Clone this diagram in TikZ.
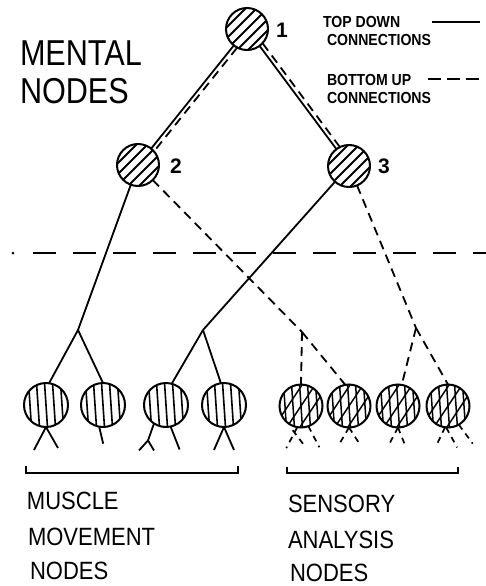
\documentclass[tikz,border=0pt]{standalone}
\usepackage{fontspec}
\setmainfont{Liberation Sans}
\begin{document}
\begin{tikzpicture}[x=1pt,y=-1pt,line width=1.8pt,
  every node/.style={inner sep=0pt,outer sep=0pt},
  bu/.style={line width=1.8pt,dash pattern=on 9pt off 6pt},
  leg/.style={line width=1.7pt,dash pattern=on 6pt off 5pt},
  sep/.style={line width=2pt,dash pattern=on 23pt off 17pt},
  topnode/.style={circle,draw,line width=2pt,minimum size=42pt,
    path picture={\foreach \i in {-22,-11,0,11,22}
      \draw[line width=1.8pt] ([shift={(\i-30,30)}]path picture bounding box.center) -- ++(60,-60);}},
  musnode/.style={circle,draw,line width=2pt,minimum size=44pt,
    path picture={\foreach \i in {-16,-8,0,8,16}
      \draw[line width=1.6pt] ([shift={(\i-2,-30)}]path picture bounding box.center) -- ++(4,60);}},
  sennode/.style={circle,draw,line width=2pt,minimum size=43pt,
    path picture={\foreach \i in {-16,-8,0,8,16}
      \draw[line width=1.5pt] ([shift={(\i-2,-30)}]path picture bounding box.center) -- ++(4,60);
      \foreach \i in {-26,-13,0,13,26}
      \draw[line width=1.5pt] ([shift={(\i-20,30)}]path picture bounding box.center) -- ++(40,-60);}},
  bigtxt/.style={font=\fontsize{36}{36}\selectfont,anchor=base west},
  midtxt/.style={font=\fontsize{25}{25}\selectfont,anchor=base west},
  legtxt/.style={font=\bfseries\fontsize{16}{16}\selectfont,anchor=base west},
  numtxt/.style={font=\bfseries\fontsize{21}{21}\selectfont}
]
\useasboundingbox (0,0) rectangle (486,586);

% mental nodes
\node[topnode] (n1) at (247,29) {};
\node[topnode] (n2) at (138,165) {};
\node[topnode] (n3) at (349,166) {};
\node[numtxt] (l1) at (282,30) {1};
\node[numtxt] (l2) at (176,166) {2};
\node[numtxt] (l3) at (384,166) {3};

% lower nodes
\node[musnode] (m1) at (46,405) {};
\node[musnode] (m2) at (103,405) {};
\node[musnode] (m3) at (166,405) {};
\node[musnode] (m4) at (224,405) {};
\node[sennode] (s1) at (301,406) {};
\node[sennode] (s2) at (349,406) {};
\node[sennode] (s3) at (398,406) {};
\node[sennode] (s4) at (448,406) {};

% junctions
\coordinate (jm1) at (78,330);
\coordinate (jm2) at (203,330);
\coordinate (js1) at (302,332);
\coordinate (js2) at (416,328);

% top-level double connections
\draw (n1) -- (n2);
\draw[bu,transform canvas={shift={(3.1,2.5)}}] (n1) -- (n2);
\draw (n1) -- (n3);
\draw[bu,transform canvas={shift={(3.2,-2.4)}}] (n1) -- (n3);

% top down (solid)
\draw (n2) -- (jm1);
\draw (jm1) -- (m1.82);
\draw (jm1) -- (m2.north);
\draw (n3) -- (jm2);
\draw (jm2) -- (m3.75);
\draw (jm2) -- (m4.98);

% bottom up (dashed)
\draw[bu] (n2) -- (js1);
\draw[bu] (js1) -- (s1.north);
\draw[bu] (js1) -- (s2.100);
\draw[bu] (n3) -- (js2);
\draw[bu] (js2) -- (s3.80);
\draw[bu] (js2) -- (s4.north);

% separator
\coordinate (sepdot) at (13,253);
\coordinate (sepa) at (33,253);
\coordinate (sepb) at (486,253);
\fill (sepdot) circle (1.5pt);
\draw[sep] (sepa) -- (sepb);

% legs of muscle nodes
\draw (m1.south) -- ++(-12,23);
\draw (m1.south) -- ++(12,21);
\draw (m2.-100) -- ++(4,17);
\draw (m3.-123) -- ++(-6,17) coordinate (m3f);
\draw (m3f) -- ++(-9,10);
\draw (m3f) -- ++(6,10);
\draw (m3.-78) -- ++(9,23);
\draw (m4.south) -- ++(-10,23);
\draw (m4.south) -- ++(10,23);

% legs of sensory nodes
\draw[leg] (s1.-100) -- ++(-11,21);
\draw[leg] (s1.-110) ++(-1,4) -- ++(13,17);
\draw[leg] (s1.-70) -- ++(11,21);
\draw[leg] (s2.south) -- ++(-10,17);
\draw[leg] (s2.south) -- ++(11,17);
\draw[leg] (s3.south) -- ++(-9,17);
\draw[leg] (s3.south) -- ++(8,20);
\draw[leg] (s4.-98) -- ++(-9,19);
\draw[leg] (s4.-95) -- ++(11,20);
\draw[leg] (s4.-60) -- ++(14,19);

% brackets
\draw[line width=1.7pt] (26,466) -- (26,473) -- (238,473) -- (238,466);
\draw[line width=1.7pt] (287,467) -- (287,473) -- (458,473) -- (458,467);

% texts
\node[bigtxt] (t1) at (20,66) {\scalebox{0.85}[1]{MENTAL}};
\node[bigtxt] (t2) at (20,103) {\scalebox{0.85}[1]{NODES}};
\node[legtxt] (g1) at (323,28) {\scalebox{0.88}[1]{TOP DOWN}};
\node[legtxt] (g2) at (327,46) {\scalebox{0.88}[1]{CONNECTIONS}};
\node[legtxt] (g3) at (327,85) {\scalebox{0.88}[1]{BOTTOM UP}};
\node[legtxt] (g4) at (327,103) {\scalebox{0.88}[1]{CONNECTIONS}};
\coordinate (lsa) at (432,22);
\coordinate (lsb) at (480,22);
\draw[line width=1.7pt] (lsa) -- (lsb);
\coordinate (lda) at (428,79);
\coordinate (ldb) at (481,79);
\draw[line width=1.7pt,dash pattern=on 13pt off 6pt] (lda) -- (ldb);
\node[midtxt] (b1) at (27,509) {\scalebox{0.88}[1]{MUSCLE}};
\node[midtxt] (b2) at (28,545) {\scalebox{0.88}[1]{MOVEMENT}};
\node[midtxt] (b3) at (30,579) {\scalebox{0.88}[1]{NODES}};
\node[midtxt] (b4) at (288,512) {\scalebox{0.88}[1]{SENSORY}};
\node[midtxt] (b5) at (288,548) {\scalebox{0.88}[1]{ANALYSIS}};
\node[midtxt] (b6) at (290,581) {\scalebox{0.88}[1]{NODES}};
\end{tikzpicture}
\end{document}
